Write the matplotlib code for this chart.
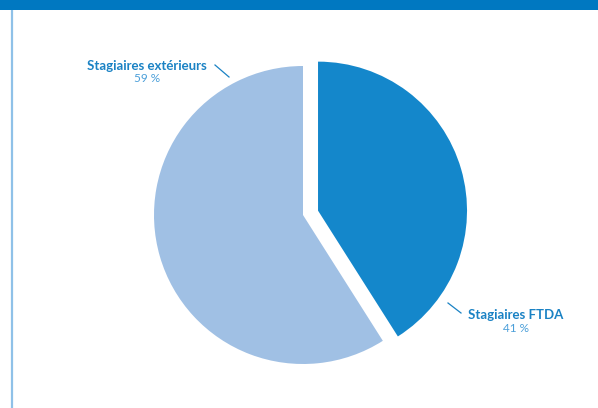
import matplotlib
matplotlib.use("Agg")
import matplotlib.pyplot as plt
from matplotlib.patches import Rectangle
from matplotlib.lines import Line2D

# Data
categories = ["Stagiaires FTDA", "Stagiaires extérieurs"]
shares = [41, 59]
pct_labels = ["41 %", "59 %"]
colors = ["#1487CB", "#A0C0E4"]
explode = [0.105, 0.0]

W, H = 598, 408
fig = plt.figure(figsize=(W / 100, H / 100), dpi=100)
fig.patch.set_facecolor("white")

# Frame: header band and left rule
fig.patches.append(Rectangle((0, 1 - 10 / H), 1, 10 / H, transform=fig.transFigure,
                             facecolor="#0078C1", edgecolor="none", zorder=0))
fig.lines.append(Line2D([11.5 / W, 11.5 / W], [0, 1 - 10 / H], transform=fig.transFigure,
                        color="#8FC1E8", lw=1.6, zorder=0))

# Axes in units of the pie radius, centred on the pie
R = 149.0
cx, cy = 303.0, 215.0
ax = fig.add_axes([0, 0, 1, 1])

ax.pie(shares, colors=colors, explode=explode, startangle=90, counterclock=False,
       radius=1.0, wedgeprops=dict(linewidth=0))

ax.set_xlim(-cx / R, (W - cx) / R)
ax.set_ylim(-(H - cy) / R, cy / R)
ax.set_aspect("auto")
ax.axis("off")

def px(x, y):
    return ((x - cx) / R, (cy - y) / R)

name_color = "#1A82C4"
pct_color = "#4B9FD9"
font = ["Lato", "DejaVu Sans"]

# FTDA label
ax.text(*px(516, 315), categories[0], ha="center", va="center", fontsize=9.5,
        fontweight="bold", color=name_color, family=font)
ax.text(*px(516, 329), pct_labels[0], ha="center", va="center", fontsize=8.5,
        color=pct_color, family=font)
x0, y0 = px(448, 303)
x1, y1 = px(461, 313)
ax.plot([x0, x1], [y0, y1], color=name_color, lw=0.9)

# Exterior label
ax.text(*px(147, 66), categories[1], ha="center", va="center", fontsize=9.5,
        fontweight="bold", color=name_color, family=font)
ax.text(*px(147, 79), pct_labels[1], ha="center", va="center", fontsize=8.5,
        color=pct_color, family=font)
x0, y0 = px(215, 65)
x1, y1 = px(229, 77)
ax.plot([x0, x1], [y0, y1], color=name_color, lw=0.9)

fig.savefig("out.png", dpi=100)
